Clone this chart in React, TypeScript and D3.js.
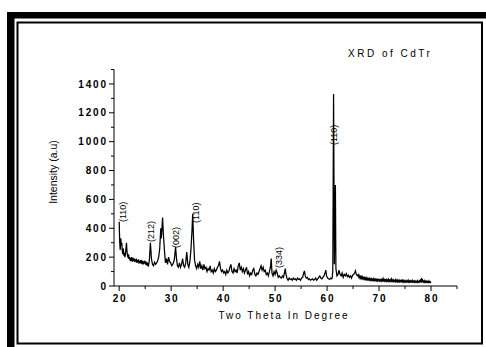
import React from "react";
import * as d3 from "d3";

const xrdPoints: [number, number][] = [
  [20.0, 445], [20.1, 300], [20.2, 250], [20.3, 330], [20.4, 280], [20.5, 300], [20.6, 240], [20.7, 220],
  [20.8, 260], [20.9, 210], [21.0, 230], [21.1, 200], [21.2, 220], [21.3, 260], [21.4, 300], [21.5, 240],
  [21.6, 210], [21.7, 200], [21.8, 220], [21.9, 190],
  [22.0, 200], [22.1, 175], [22.2, 195], [22.3, 170], [22.4, 200], [22.5, 180], [22.6, 170], [22.7, 195],
  [22.8, 175], [22.9, 190], [23.0, 165], [23.1, 185], [23.2, 170], [23.3, 190], [23.4, 160], [23.5, 180],
  [23.6, 165], [23.7, 185], [23.8, 155], [23.9, 175], [24.0, 160], [24.1, 180], [24.2, 155], [24.3, 170],
  [24.4, 160], [24.5, 175], [24.6, 150], [24.7, 170], [24.8, 155], [24.9, 175], [25.0, 160], [25.1, 170],
  [25.2, 145], [25.3, 165], [25.4, 150], [25.5, 160], [25.6, 135], [25.7, 155], [25.8, 175],
  [26.0, 300], [26.1, 250], [26.2, 190], [26.4, 150], [26.6, 140], [26.8, 165], [27.0, 150], [27.2, 160],
  [27.4, 175], [27.6, 200], [27.8, 260], [28.0, 400], [28.1, 330], [28.2, 380], [28.35, 475], [28.5, 360],
  [28.7, 250], [28.9, 160], [29.1, 190], [29.3, 150], [29.5, 200], [29.7, 170], [29.9, 160], [30.1, 140],
  [30.3, 150], [30.6, 180], [30.85, 270], [31.0, 200], [31.2, 140], [31.4, 130], [31.6, 160], [31.8, 130],
  [32.0, 150], [32.2, 190], [32.4, 140], [32.6, 130], [32.8, 160], [33.0, 235], [33.2, 150], [33.4, 130],
  [33.6, 170], [33.8, 250], [34.0, 380], [34.15, 500], [34.3, 330], [34.5, 180], [34.7, 140], [34.9, 120],
  [35.1, 150], [35.3, 130], [35.5, 170], [35.7, 120], [35.9, 140], [36.1, 110], [36.3, 150], [36.5, 120],
  [36.7, 130], [36.9, 100], [37.1, 120], [37.3, 110], [37.5, 140], [37.7, 100], [37.9, 110], [38.1, 90],
  [38.3, 120], [38.5, 100], [38.7, 110], [38.9, 130], [39.1, 140], [39.3, 170], [39.5, 120], [39.7, 100],
  [39.9, 110], [40.1, 90], [40.3, 100], [40.5, 80], [40.7, 110], [40.9, 90], [41.1, 100], [41.3, 130],
  [41.5, 150], [41.7, 100], [41.9, 90], [42.1, 120], [42.3, 100], [42.5, 110], [42.7, 90], [42.9, 140],
  [43.1, 160], [43.3, 110], [43.5, 130], [43.7, 100], [43.9, 120], [44.1, 90], [44.3, 110], [44.5, 130],
  [44.7, 80], [44.9, 100], [45.1, 70], [45.3, 90], [45.5, 80], [45.7, 110], [45.9, 120], [46.1, 80],
  [46.3, 70], [46.5, 90], [46.7, 80], [46.9, 100], [47.1, 120], [47.3, 140], [47.5, 110], [47.7, 130],
  [47.9, 100], [48.1, 110], [48.3, 80], [48.5, 90], [48.7, 70], [48.9, 100], [49.1, 130], [49.25, 190],
  [49.4, 90], [49.6, 70], [49.8, 100], [50.0, 80], [50.2, 110], [50.4, 90], [50.6, 60], [50.8, 70],
  [51.0, 60], [51.2, 55], [51.4, 70], [51.6, 60], [51.8, 90], [51.95, 120], [52.1, 80], [52.3, 50],
  [52.5, 40], [52.7, 55], [52.9, 45], [53.1, 50], [53.3, 40], [53.5, 55], [53.7, 45], [53.9, 50],
  [54.1, 40], [54.3, 55], [54.5, 45], [54.7, 50], [54.9, 40], [55.1, 55], [55.3, 60], [55.5, 90],
  [55.65, 105], [55.8, 70], [56.0, 55], [56.2, 60], [56.4, 45], [56.6, 50], [56.8, 40], [57.0, 45],
  [57.2, 50], [57.4, 40], [57.6, 45], [57.8, 55], [58.0, 40], [58.2, 50], [58.4, 60], [58.6, 70],
  [58.8, 55], [59.0, 50], [59.2, 60], [59.4, 70], [59.6, 90], [59.75, 110], [59.9, 70], [60.1, 55],
  [60.3, 50], [60.5, 45], [60.7, 55], [60.9, 50], [61.0, 60], [61.1, 110], [61.25, 1330], [61.4, 150],
  [61.6, 700], [61.7, 120], [61.9, 70], [62.1, 80], [62.3, 110], [62.5, 80], [62.7, 70], [62.9, 90],
  [63.1, 60], [63.3, 80], [63.5, 70], [63.7, 85], [63.9, 65], [64.1, 75], [64.3, 60], [64.5, 70],
  [64.7, 55], [64.9, 75], [65.1, 80], [65.3, 90], [65.45, 105], [65.6, 85], [65.8, 70],
  [66.0, 80], [66.1, 62], [66.2, 70], [66.3, 58], [66.4, 72], [66.5, 55], [66.6, 64], [66.7, 52],
  [66.8, 62], [66.9, 50], [67.0, 58], [67.1, 48], [67.2, 57], [67.3, 46], [67.4, 54], [67.5, 45],
  [67.6, 56], [67.7, 44], [67.8, 52], [67.9, 43], [68.0, 50], [68.1, 42], [68.2, 52], [68.3, 40],
  [68.4, 48], [68.5, 41], [68.6, 50], [68.7, 39], [68.8, 46], [68.9, 40], [69.0, 50], [69.1, 38],
  [69.2, 46], [69.3, 39], [69.4, 47], [69.5, 37], [69.6, 44], [69.7, 36], [69.8, 46], [69.9, 38],
  [70.0, 44], [70.1, 35], [70.2, 42], [70.3, 36], [70.4, 46], [70.5, 35], [70.6, 43], [70.7, 36],
  [70.8, 50], [70.9, 37], [71.0, 44], [71.1, 34], [71.2, 42], [71.3, 35], [71.4, 44], [71.5, 33],
  [71.6, 41], [71.7, 35], [71.8, 46], [71.9, 33], [72.0, 40], [72.1, 32], [72.2, 42], [72.3, 36],
  [72.4, 48], [72.5, 33], [72.6, 40], [72.7, 32], [72.8, 41], [72.9, 31], [73.0, 38], [73.1, 32],
  [73.2, 43], [73.3, 31], [73.4, 38], [73.5, 30], [73.6, 41], [73.7, 31], [73.8, 37], [73.9, 29],
  [74.0, 39], [74.1, 30], [74.2, 36], [74.3, 31], [74.4, 45], [74.5, 30], [74.6, 37], [74.7, 29],
  [74.8, 38], [74.9, 28], [75.0, 35], [75.1, 29], [75.2, 37], [75.3, 28], [75.4, 34], [75.5, 29],
  [75.6, 40], [75.7, 28], [75.8, 34], [75.9, 27], [76.0, 36], [76.1, 28], [76.2, 33], [76.3, 27],
  [76.4, 38], [76.5, 28], [76.6, 33], [76.7, 27], [76.8, 35], [76.9, 27], [77.0, 33], [77.1, 26],
  [77.2, 32], [77.3, 27], [77.4, 36], [77.5, 26], [77.6, 32], [77.7, 27], [77.8, 35], [77.9, 28],
  [78.0, 40], [78.1, 33], [78.2, 55], [78.3, 34], [78.4, 40], [78.5, 27], [78.6, 33], [78.7, 26],
  [78.8, 36], [78.9, 27], [79.0, 32], [79.1, 26], [79.2, 34], [79.3, 26], [79.4, 31], [79.5, 25],
  [79.6, 35], [79.7, 26], [79.8, 30], [79.9, 25], [80.0, 30],
];

const peakLabels: { theta: number; value: number; text: string }[] = [
  { theta: 20.73, value: 443, text: "(110)" },
  { theta: 26.0, value: 305, text: "(212)" },
  { theta: 30.9, value: 263, text: "(002)" },
  { theta: 34.7, value: 437, text: "(110)" },
  { theta: 50.65, value: 125, text: "(334)" },
  { theta: 61.33, value: 977, text: "(110)" },
];

const xMajorTicks = [20, 30, 40, 50, 60, 70, 80];
const xMinorTicks = [25, 35, 45, 55, 65, 75, 85];
const yMajorTicks = [0, 200, 400, 600, 800, 1000, 1200, 1400];
const yMinorTicks = [100, 300, 500, 700, 900, 1100, 1300, 1500];

const titleText = "XRD of CdTr";
const xLabelText = "Two Theta In Degree";
const yLabelText = "Intensity (a.u)";

const FONT = "'Liberation Sans', Arial, sans-serif";

export default function App() {
  const W = 486;
  const H = 347;
  const left = 114;
  const right = 457;
  const top = 69.5;
  const bottom = 286;

  const x = d3.scaleLinear().domain([19, 85]).range([left, right]);
  const y = d3.scaleLinear().domain([0, 1500]).range([bottom, top]);

  const line = d3
    .line<[number, number]>()
    .x((d) => x(d[0]))
    .y((d) => y(d[1]));

  const tickLs = 1.8;

  return (
    <svg
      width={W}
      height={H}
      style={{ position: "absolute", left: 0, top: 0, background: "#fff" }}
    >
      <rect x={0} y={0} width={W} height={H} fill="#fff" />
      {/* page frame */}
      <rect x={7} y={12} width={W - 7} height={6.5} fill="#000" />
      <rect x={7} y={12} width={7.5} height={H - 12} fill="#000" />
      <rect x={17.5} y={22.5} width={464.5} height={321} fill="none" stroke="#000" strokeWidth={2} />

      {/* axes */}
      <line x1={left} x2={left} y1={top} y2={bottom} stroke="#000" strokeWidth={1} />
      <line x1={left} x2={right} y1={bottom} y2={bottom} stroke="#000" strokeWidth={1} />

      {yMajorTicks.map((t) => (
        <g key={"ym" + t}>
          <line x1={left - 5} x2={left} y1={y(t)} y2={y(t)} stroke="#000" strokeWidth={1} />
          <text
            x={left - 8 + tickLs}
            y={y(t)}
            dy="0.36em"
            textAnchor="end"
            fontFamily={FONT}
            fontWeight="bold"
            fontSize={10}
            letterSpacing={tickLs}
          >
            {t}
          </text>
        </g>
      ))}
      {yMinorTicks.map((t) => (
        <line key={"yn" + t} x1={left - 3} x2={left} y1={y(t)} y2={y(t)} stroke="#000" strokeWidth={1} />
      ))}
      {xMajorTicks.map((t) => (
        <g key={"xm" + t}>
          <line x1={x(t)} x2={x(t)} y1={bottom} y2={bottom + 5} stroke="#000" strokeWidth={1} />
          <text
            x={x(t) + tickLs / 2}
            y={302}
            textAnchor="middle"
            fontFamily={FONT}
            fontWeight="bold"
            fontSize={10}
            letterSpacing={tickLs}
          >
            {t}
          </text>
        </g>
      ))}
      {xMinorTicks.map((t) => (
        <line key={"xn" + t} x1={x(t)} x2={x(t)} y1={bottom} y2={bottom + 3} stroke="#000" strokeWidth={1} />
      ))}

      {/* data */}
      <path d={line(xrdPoints) || ""} fill="none" stroke="#000" strokeWidth={1.25} strokeLinejoin="miter" />

      {/* peak labels */}
      {peakLabels.map((p, i) => (
        <text
          key={"pl" + i}
          transform={`translate(${x(p.theta)},${y(p.value)}) rotate(-90)`}
          dy="0.35em"
          textAnchor="start"
          fontFamily={FONT}
          fontSize={9}
        >
          {p.text}
        </text>
      ))}

      {/* titles */}
      <text
        x={389 + 1.25}
        y={57}
        textAnchor="middle"
        fontFamily={FONT}
        fontSize={10}
        letterSpacing={2.5}
      >
        {titleText}
      </text>
      <text
        x={283 + 1}
        y={319}
        textAnchor="middle"
        fontFamily={FONT}
        fontSize={10}
        letterSpacing={2}
      >
        {xLabelText}
      </text>
      <text
        transform={`translate(57,${172}) rotate(-90)`}
        textAnchor="middle"
        fontFamily={FONT}
        fontSize={10.5}
      >
        {yLabelText}
      </text>
    </svg>
  );
}
